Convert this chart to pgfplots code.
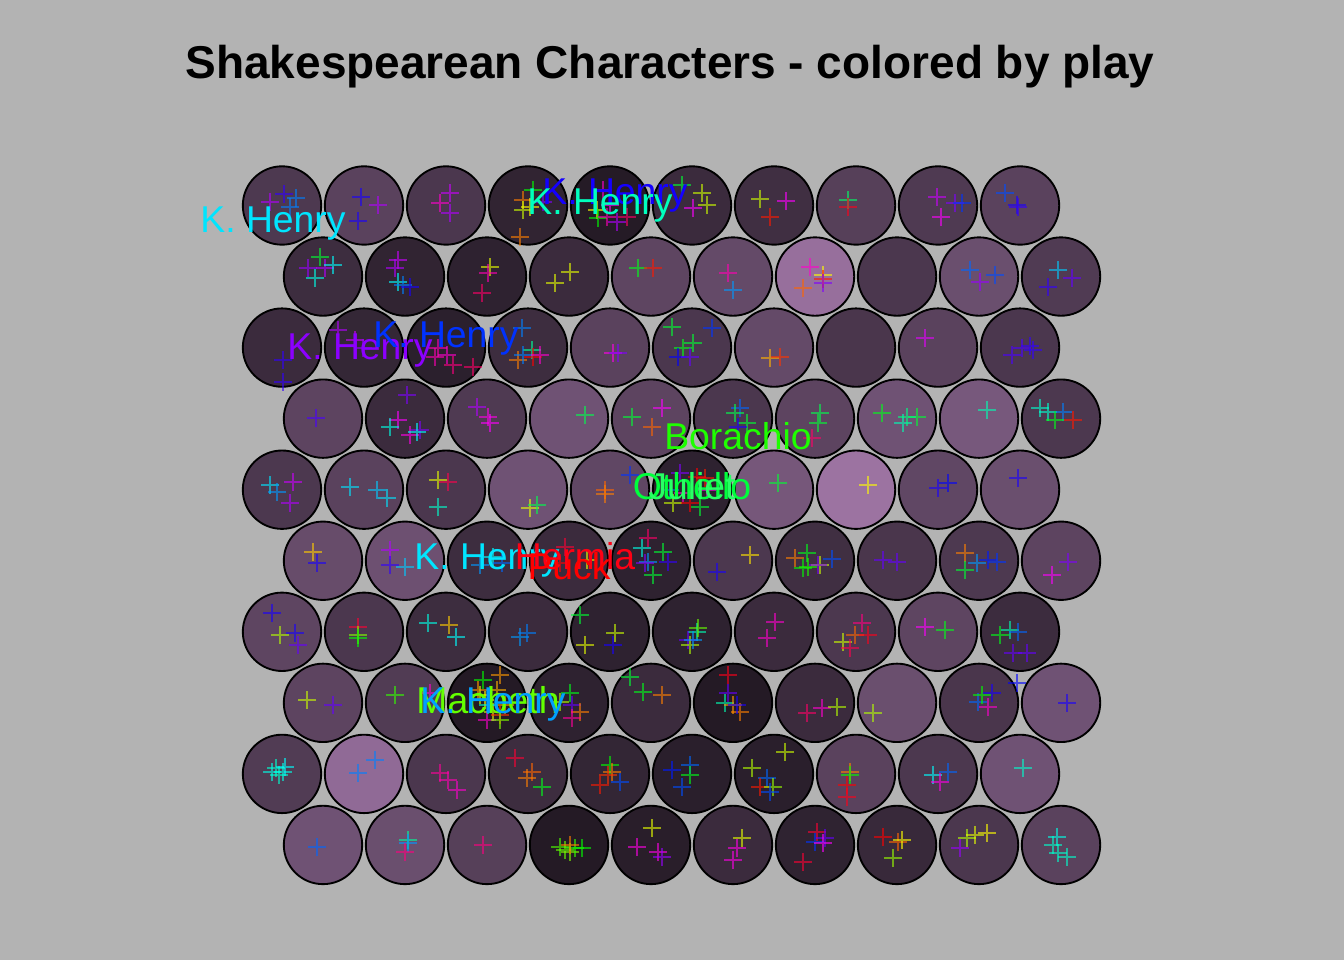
\documentclass[border=0pt]{standalone}
\usepackage{pgfplots}
\pgfplotsset{compat=1.18}
\usepackage{fontspec}
\setmainfont{Liberation Sans}
\definecolor{bg}{RGB}{179,179,179}
\definecolor{lcyan}{RGB}{0,229,255}
\definecolor{lblue}{RGB}{20,0,255}
\definecolor{laqua}{RGB}{0,255,190}
\definecolor{lviolet}{RGB}{140,0,255}
\definecolor{lblue2}{RGB}{0,50,255}
\definecolor{lgreen}{RGB}{30,255,0}
\definecolor{lgreen2}{RGB}{0,255,60}
\definecolor{lgreen3}{RGB}{40,255,100}
\definecolor{lred}{RGB}{255,0,20}
\definecolor{lred2}{RGB}{255,0,0}
\definecolor{lygreen}{RGB}{100,255,0}
\definecolor{lazure}{RGB}{0,160,255}
\pgfdeclareplotmark{thickplus}{%
  \pgfsetlinewidth{2pt}\pgfsetstrokeopacity{0.6}%
  \pgfpathmoveto{\pgfqpoint{-\pgfplotmarksize}{0pt}}%
  \pgfpathlineto{\pgfqpoint{\pgfplotmarksize}{0pt}}%
  \pgfpathmoveto{\pgfqpoint{0pt}{-\pgfplotmarksize}}%
  \pgfpathlineto{\pgfqpoint{0pt}{\pgfplotmarksize}}%
  \pgfusepathqstroke}
\pgfdeclareplotmark{ringdisc}{%
  \pgfsetlinewidth{1.4pt}%
  \pgfpathcircle{\pgfpointorigin}{\pgfplotmarksize}%
  \pgfusepathqfillstroke}
\begin{document}
\begin{tikzpicture}
\begin{axis}[
  set layers,
  width=1008pt, height=720pt, scale only axis,
  xmin=0, xmax=1344, ymin=-960, ymax=0,
  axis line style={draw=none}, xtick=\empty, ytick=\empty,
  axis background/.style={fill=bg},
  colormap={mix}{rgb(0cm)=(1,0,0) rgb(1cm)=(1,1,0) rgb(2cm)=(0,1,0) rgb(3cm)=(0,1,1) rgb(4cm)=(0,0,1) rgb(5cm)=(1,0,1) rgb(6cm)=(1,0,0) rgb(7cm)=(0.133,0.098,0.137) rgb(8cm)=(0.627,0.463,0.651)},
  point meta min=0, point meta max=8,
  clip=false,
]
% circles (x, y, 7+shade)
\addplot[scatter, only marks, mark=ringdisc, mark size=29.4pt, point meta=explicit,
  scatter/use mapped color={draw=black, fill=mapped color}]
  table[meta=c]{
x y c
282 -205.5 7.35
364 -205.5 7.45
446 -205.5 7.33
528 -205.5 7.12
610 -205.5 7.03
692 -205.5 7.20
774 -205.5 7.24
856 -205.5 7.42
938 -205.5 7.36
1020 -205.5 7.45
323 -276.55 7.22
405 -276.55 7.12
487 -276.55 7.10
569 -276.55 7.20
651 -276.55 7.48
733 -276.55 7.53
815 -276.55 7.93
897 -276.55 7.33
979 -276.55 7.58
1061 -276.55 7.37
282 -347.6 7.20
364 -347.6 7.15
446 -347.6 7.08
528 -347.6 7.22
610 -347.6 7.45
692 -347.6 7.33
774 -347.6 7.53
856 -347.6 7.32
938 -347.6 7.45
1020 -347.6 7.33
323 -418.65 7.47
405 -418.65 7.20
487 -418.65 7.36
569 -418.65 7.62
651 -418.65 7.47
733 -418.65 7.33
815 -418.65 7.47
897 -418.65 7.62
979 -418.65 7.68
1061 -418.65 7.34
282 -489.7 7.34
364 -489.7 7.45
446 -489.7 7.33
528 -489.7 7.62
610 -489.7 7.50
692 -489.7 7.10
774 -489.7 7.67
856 -489.7 7.97
938 -489.7 7.50
1020 -489.7 7.58
323 -560.75 7.55
405 -560.75 7.60
487 -560.75 7.22
569 -560.75 7.20
651 -560.75 7.10
733 -560.75 7.34
815 -560.75 7.24
897 -560.75 7.32
979 -560.75 7.35
1061 -560.75 7.47
282 -631.8 7.48
364 -631.8 7.33
446 -631.8 7.22
528 -631.8 7.20
610 -631.8 7.10
692 -631.8 7.10
774 -631.8 7.20
856 -631.8 7.34
938 -631.8 7.48
1020 -631.8 7.21
323 -702.85 7.47
405 -702.85 7.38
487 -702.85 7.02
569 -702.85 7.10
651 -702.85 7.20
733 -702.85 7.02
815 -702.85 7.20
897 -702.85 7.58
979 -702.85 7.32
1061 -702.85 7.62
282 -773.9 7.38
364 -773.9 7.88
446 -773.9 7.33
528 -773.9 7.22
610 -773.9 7.14
692 -773.9 7.07
774 -773.9 7.07
856 -773.9 7.45
938 -773.9 7.34
1020 -773.9 7.62
323 -844.95 7.62
405 -844.95 7.58
487 -844.95 7.42
569 -844.95 7.02
651 -844.95 7.06
733 -844.95 7.20
815 -844.95 7.11
897 -844.95 7.18
979 -844.95 7.33
1061 -844.95 7.45
};
% plus marks (x, y, hue*6)
\addplot[scatter, only marks, mark=thickplus, mark size=6.4pt, point meta=explicit,
  scatter/use mapped color={draw=mapped color}]
  table[meta=h]{
x y h
270 -202 4.7
284 -194 4.2
296 -198 3.5
290 -207 3.5
361 -197 4.1
378 -205 4.7
358 -221 4.1
450 -193 4.8
440 -203 5.2
450 -213 4.7
533 -190 2.0
523 -200 0.5
530 -207 1.0
523 -210 1.2
543 -202 4.5
520 -237 0.5
603 -190 5.2
597 -210 1.0
598 -218 2.0
607 -217 5.3
617 -222 4.7
627 -217 5.6
610 -205 5.0
682 -185 2.2
702 -193 1.2
707 -205 1.2
693 -208 5.0
760 -199 1.2
786 -201 5.0
770 -217 0.1
848 -200 2.4
848 -207 5.9
937 -197 4.8
955 -203 4.5
962 -203 3.8
941 -217 5.0
1005 -193 3.7
1017 -205 4.1
1018 -207 4.2
320 -257 2.2
308 -268 4.6
325 -268 4.7
333 -265 3.0
315 -278 2.9
398 -260 4.8
395 -268 4.7
398 -282 3.0
403 -285 3.5
410 -287 4.1
490 -267 1.1
488 -273 5.3
482 -293 5.6
555 -283 1.1
570 -272 1.1
638 -268 2.1
653 -268 0.1
728 -273 5.3
733 -290 3.4
810 -267 5.2
803 -288 0.4
823 -275 1.0
823 -279 0.1
823 -283 4.5
970 -270 3.6
980 -282 4.6
995 -275 3.7
1058 -270 3.2
1072 -278 4.4
1048 -287 4.2
283 -360 4.2
283 -382 4.2
338 -330 4.7
355 -340 4.8
363 -348 4.6
438 -348 5.3
447 -355 5.2
453 -365 5.5
473 -367 5.6
435 -357 5.3
522 -328 3.5
532 -350 2.6
518 -360 0.5
523 -355 3.5
533 -357 0.0
540 -355 5.2
613 -353 5.1
618 -353 4.5
672 -327 2.2
712 -328 3.8
693 -343 2.2
683 -348 2.1
678 -357 4.0
690 -357 4.4
770 -358 0.7
780 -357 0.2
925 -338 4.9
1012 -355 4.3
1022 -348 4.3
1033 -350 4.2
1030 -346 4.2
316 -418 4.3
407 -395 4.5
398 -420 5.0
390 -427 2.9
410 -435 5.1
420 -430 4.5
417 -432 3.0
477 -407 4.7
488 -417 5.1
490 -423 5.0
585 -415 2.3
632 -417 2.2
652 -427 0.4
662 -408 5.0
740 -408 3.6
735 -413 2.3
747 -423 2.2
738 -427 4.1
820 -413 2.3
818 -423 2.2
812 -438 5.6
882 -413 2.1
903 -423 2.7
917 -417 2.2
907 -417 2.5
987 -410 2.7
1040 -408 2.8
1048 -412 2.8
1063 -412 3.5
1055 -420 2.1
1073 -420 0.1
270 -485 3.1
277 -492 3.4
293 -482 4.8
290 -503 4.7
350 -487 3.1
377 -490 3.2
387 -498 3.1
438 -480 1.1
448 -482 5.7
438 -507 2.8
530 -508 1.1
537 -505 2.3
605 -490 0.4
605 -494 0.5
630 -475 3.8
680 -473 4.5
697 -477 0.0
705 -478 0.1
683 -493 5.2
673 -503 1.2
690 -503 0.0
700 -507 2.2
707 -490 5.1
670 -490 3.6
778 -483 2.2
868 -485 1.0
938 -488 4.1
948 -483 4.0
1018 -478 4.1
313 -552 0.8
317 -563 4.1
390 -550 4.7
390 -565 4.2
405 -567 3.2
480 -565 3.4
493 -557 3.0
502 -563 3.6
565 -547 5.8
560 -563 0.0
587 -560 1.1
648 -538 5.6
642 -548 2.9
663 -552 2.2
648 -562 3.4
668 -562 4.2
653 -575 2.2
645 -563 4.5
750 -555 0.9
717 -572 4.1
795 -558 0.5
807 -553 2.1
803 -568 2.0
808 -567 1.9
820 -565 1.2
832 -559 3.7
818 -565 4.5
883 -560 4.4
897 -562 4.4
965 -553 0.5
965 -570 2.2
977 -563 3.4
988 -560 3.9
997 -562 3.8
1068 -562 4.5
1052 -575 5.0
272 -613 4.1
280 -635 1.3
295 -633 4.1
298 -645 4.4
358 -627 5.8
358 -635 1.5
358 -638 2.0
428 -623 2.9
449 -625 0.8
456 -637 3.0
520 -637 3.4
527 -633 3.5
580 -615 2.2
585 -645 1.1
615 -633 1.2
613 -645 4.1
697 -632 2.7
698 -628 1.6
688 -640 4.4
690 -645 1.3
693 -640 3.4
775 -622 5.2
767 -638 5.2
862 -623 5.5
855 -635 0.4
868 -635 5.9
843 -642 1.2
850 -648 5.7
925 -627 5.0
945 -630 2.1
1000 -635 2.1
1010 -630 2.7
1018 -632 3.6
1013 -653 4.4
1027 -653 4.4
1017 -683 4.0
307 -700 1.2
333 -705 4.4
395 -695 1.8
430 -693 5.2
483 -680 2.0
500 -675 0.6
497 -690 0.7
485 -700 1.0
480 -695 1.1
505 -705 0.6
493 -712 1.1
500 -715 0.2
487 -720 5.2
500 -720 1.5
478 -690 0.6
488 -705 2.8
570 -693 2.1
572 -705 4.4
580 -712 0.5
572 -718 5.4
560 -702 1.3
630 -677 2.2
643 -692 2.1
662 -695 0.5
728 -675 5.9
728 -693 4.4
725 -703 2.7
733 -705 0.6
740 -712 0.5
737 -705 4.1
807 -713 5.6
822 -708 5.2
837 -707 1.3
873 -713 1.3
992 -693 4.1
978 -702 3.6
982 -695 2.0
988 -707 5.2
1067 -703 4.1
276 -768 2.8
283 -772 2.9
279 -775 2.8
285 -767 3.0
272 -772 2.9
375 -760 3.5
358 -773 3.5
440 -773 5.4
448 -780 5.3
457 -790 5.2
515 -758 5.8
532 -772 0.4
527 -778 0.5
542 -787 2.1
610 -765 2.0
612 -772 0.5
600 -785 0.1
620 -782 3.7
608 -775 0.2
672 -770 3.9
690 -765 3.6
690 -775 2.1
682 -787 3.7
785 -752 1.2
752 -768 1.3
767 -778 3.6
760 -787 0.1
773 -787 1.4
770 -792 3.7
850 -772 0.5
850 -775 2.0
847 -785 0.0
847 -797 5.9
933 -775 3.0
948 -772 3.6
940 -782 5.1
1023 -768 2.8
317 -847 3.6
408 -840 2.6
408 -843 3.4
405 -852 5.5
483 -845 5.5
560 -847 1.7
565 -850 1.6
570 -852 1.5
575 -848 1.8
582 -848 2.0
570 -845 0.5
652 -828 1.1
637 -847 5.1
658 -852 5.1
662 -857 4.6
742 -838 1.1
737 -848 5.1
733 -860 5.1
817 -832 5.8
825 -838 4.4
815 -842 3.8
823 -843 5.0
803 -862 5.8
883 -837 0.0
898 -842 0.4
902 -840 1.0
893 -858 1.4
967 -838 1.3
975 -835 1.1
987 -833 1.0
960 -848 4.6
1057 -837 2.9
1053 -845 2.8
1058 -853 2.8
1067 -857 2.8
};
\begin{pgfonlayer}{axis foreground}
% title
\node[font=\bfseries\fontsize{34.5}{40}\selectfont, anchor=base] at (axis cs:670,-79) {Shakespearean Characters - colored by play};
% labels
\begin{scope}[every node/.style={font=\fontsize{28}{32}\selectfont, anchor=base, inner sep=0pt}]
\node[text=lcyan] at (axis cs:273,-233) {K. Henry};
\node[text=lblue] at (axis cs:615,-205) {K. Henry};
\node[text=laqua] at (axis cs:600,-215) {K. Henry};
\node[text=lviolet] at (axis cs:360,-360) {K. Henry};
\node[text=lblue2] at (axis cs:446,-348) {K. Henry};
\node[text=lgreen] at (axis cs:738,-450) {Borachio};
\node[text=lgreen2] at (axis cs:692,-500) {Othello};
\node[text=lgreen3] at (axis cs:692,-500) {Juliet};
\node[text=lcyan] at (axis cs:487,-570) {K. Henry};
\node[text=lred] at (axis cs:575,-570) {Hermia};
\node[text=lred2] at (axis cs:569,-580) {Puck};
\node[text=lygreen] at (axis cs:488,-713) {Macbeth};
\node[text=lazure] at (axis cs:493,-713) {K. Henry};
\end{scope}
\end{pgfonlayer}
\end{axis}
\end{tikzpicture}
\end{document}
